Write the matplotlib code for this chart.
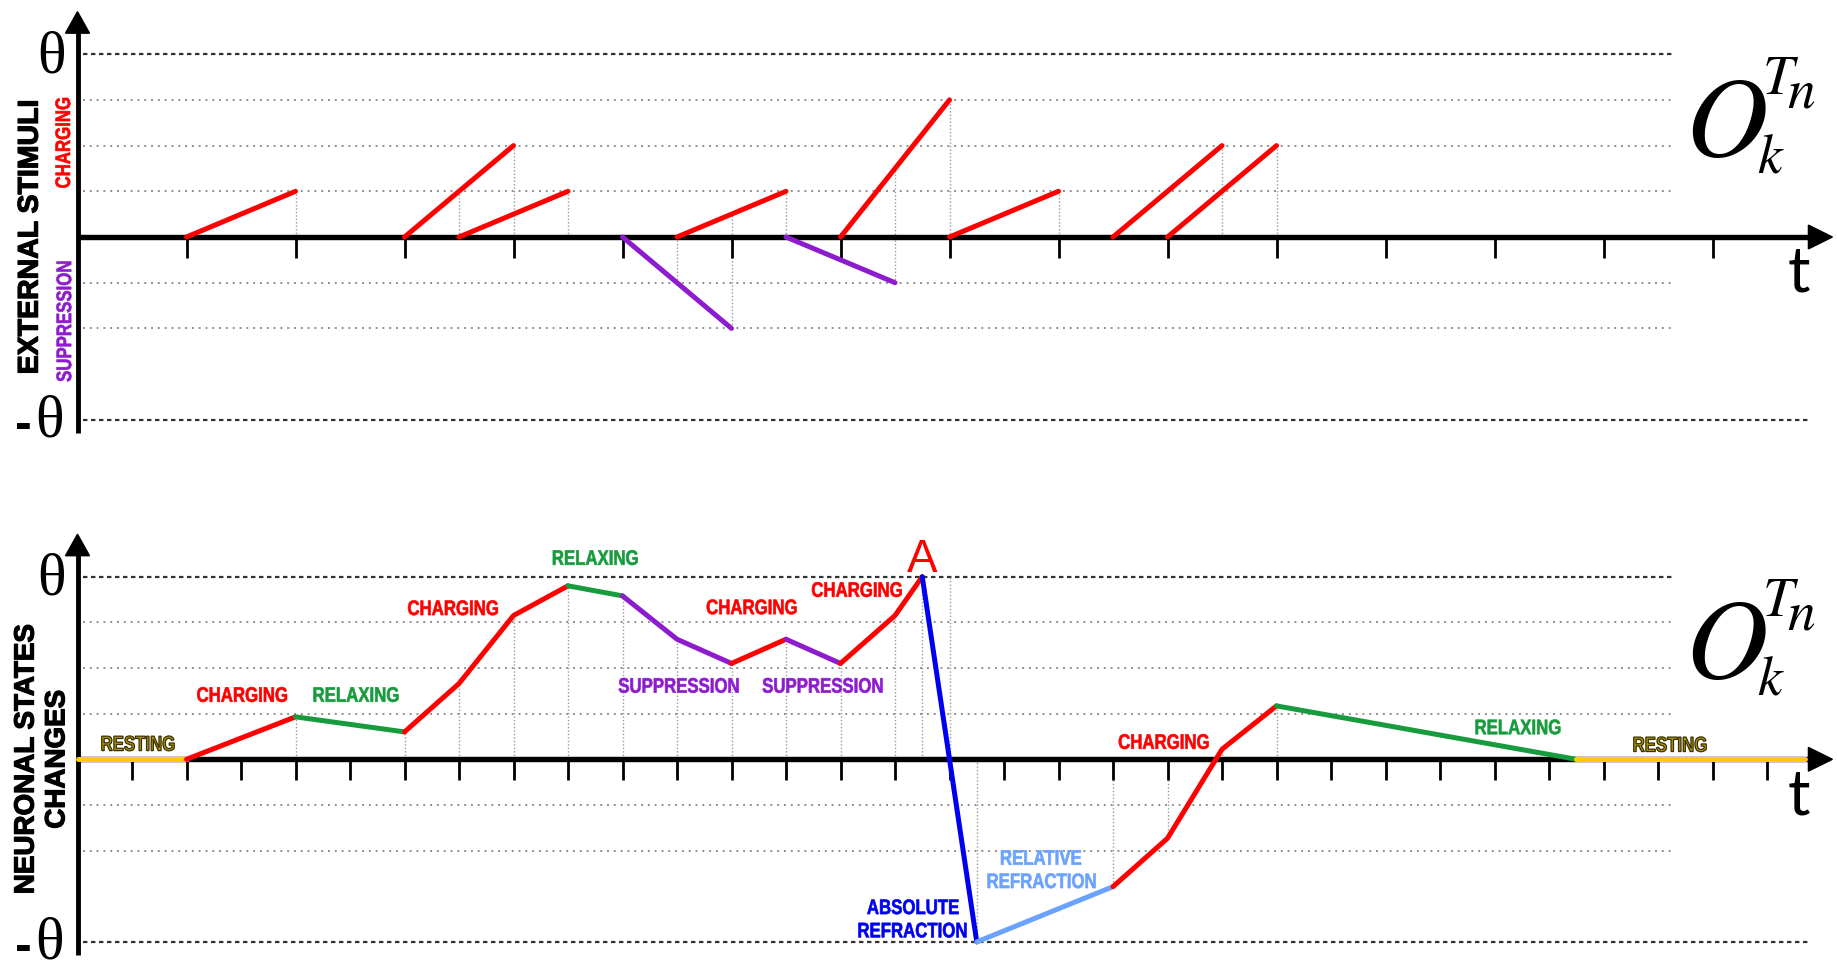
import matplotlib
matplotlib.use("Agg")
import matplotlib.pyplot as plt
import matplotlib.transforms as mtransforms
import matplotlib.patheffects as pe
from matplotlib.font_manager import FontProperties
from matplotlib.patches import Polygon, PathPatch
from matplotlib.textpath import TextPath
import numpy as np

# ---------------------------------------------------------------- data
THETA = 4  # firing threshold (grid units)

# external stimuli: each ramps from 0 at start to its peak at end
charge_start = [2, 6, 7, 11, 14, 16, 19, 20]
charge_end = [4, 8, 9, 13, 16, 18, 21, 22]
charge_peak = [1, 2, 1, 1, 3, 1, 2, 2]

supp_start = [10, 13]
supp_end = [12, 15]
supp_peak = [-2, -1]

stim_guide_t = [4, 7, 8, 9, 11, 12, 13, 15, 16, 18, 21, 22]

# neuronal state trajectory
state_t = [0, 2, 4, 6, 7, 8, 9, 10, 11, 12, 13, 14, 15, 15.5, 16.5, 19, 20, 21, 22, 27.5, 31.7]
state_v = [0, 0, 0.93, 0.6, 1.66, 3.15, 3.8, 3.58, 2.63, 2.1, 2.63, 2.1, 3.15, 4.0, -4.0,
           -2.79, -1.73, 0.22, 1.17, 0, 0]
state_phase = ["rest", "charge", "relax", "charge", "charge", "charge", "relax", "supp", "supp",
               "charge", "supp", "charge", "charge", "abs", "rel", "charge", "charge", "charge",
               "relax", "rest"]
state_guide_t = [4, 6, 7, 8, 9, 10, 11, 12, 13, 14, 15, 15.5, 16.5, 19, 20, 21, 22]
fire_guide_t = 16

phase_color = {"rest": "#ffcc00", "charge": "#ff0000", "relax": "#179b3d",
               "supp": "#8e1ccf", "abs": "#0000f0", "rel": "#6aa2ff"}

# ---------------------------------------------------------------- fonts
SANS = "Liberation Sans"
SERIF = "Liberation Serif"
MATH = "STIXGeneral"
T_FONT = "Lato"
BOLD = FontProperties(family=SANS, weight="bold")
HEAVY = [pe.withStroke(linewidth=0.9, foreground="black")]

# ---------------------------------------------------------------- figure
W, H = 1837, 971
fig = plt.figure(figsize=(W / 100, H / 100), dpi=100)
fig.patch.set_facecolor("white")

X0, XS = 77.5, 54.5  # pixel position of t=0, pixels per time unit

ax_top = fig.add_axes([0, 491 / H, 1, 480 / H])
ax_bot = fig.add_axes([0, 0, 1, 491 / H])
ax_top.set_ylim((237 - 480) / 45.7, 237 / 45.7)
ax_bot.set_ylim((759.3 - 971) / 45.65, (759.3 - 480) / 45.65)
for ax in (ax_top, ax_bot):
    ax.set_xlim(-X0 / XS, (W - X0) / XS)
    ax.axis("off")


def narrow_label(ax, x, y, s, color, size=21, squeeze=0.80, rotation=0,
                 edge=None, ew=0.45, valign="baseline"):
    """Bold condensed caption drawn as a horizontally squeezed text path."""
    path = TextPath((0, 0), s, size=size, prop=BOLD)
    ext = path.get_extents()
    cx = (ext.x0 + ext.x1) / 2
    dy = 0.0 if valign == "baseline" else -(ext.y0 + ext.y1) / 2
    px, py = ax.transData.transform((x, y))
    tr = (mtransforms.Affine2D().translate(-cx, dy).scale(squeeze, 1.0)
          .rotate_deg(rotation).translate(px, py))
    fig.add_artist(PathPatch(path, transform=tr, facecolor=color,
                             edgecolor=edge if edge else color, lw=ew, zorder=6))


def draw_frame(ax, ticks):
    # horizontal reference levels
    for v in [1, 2, 3, -1, -2]:
        ax.plot([0.1, 29.3], [v, v], color="#8f8f8f", lw=1.4, dashes=(1, 2.5), zorder=1)
    ax.plot([0.1, 29.3], [THETA, THETA], color="#333333", lw=1.6, dashes=(2, 1.6), zorder=1)
    ax.plot([0.1, 31.8], [-THETA, -THETA], color="#333333", lw=1.6, dashes=(2, 1.6), zorder=1)
    # time axis with arrow
    ax.plot([0, 31.8], [0, 0], color="black", lw=3.9, solid_capstyle="butt", zorder=3)
    ax.add_patch(Polygon([(31.76, 0.26), (32.2, 0), (31.76, -0.26)], closed=True,
                         color="black", zorder=3))
    # value axis with arrow
    ax.plot([0, 0], [-4.29, 4.5], color="black", lw=3.5, solid_capstyle="butt", zorder=3)
    ax.add_patch(Polygon([(-0.22, 4.46), (0, 4.93), (0.22, 4.46)], closed=True,
                         color="black", zorder=3))
    for t in ticks:
        ax.plot([t, t], [0, -0.46], color="black", lw=2.0, solid_capstyle="butt", zorder=3)
    # threshold labels
    ax.text(-0.48, 3.6, "θ", family=SERIF, fontsize=43, ha="center", va="baseline")
    ax.text(-0.516, -4.355, "θ", family=SERIF, fontsize=43, ha="center", va="baseline")
    ax.text(-1.0, -4.02, "-", family=SANS, weight="bold", fontsize=36, ha="center",
            va="center_baseline")
    # output symbol O_k^{T_n}
    ax.text(29.50, 1.78, "O", family=MATH, style="italic", fontsize=82, ha="left", va="baseline")
    ax.text(30.92, 3.13, "T", family=MATH, style="italic", fontsize=40, ha="left", va="baseline")
    ax.text(31.38, 2.84, "n", family=MATH, style="italic", fontsize=40, ha="left", va="baseline")
    ax.text(30.82, 1.40, "k", family=MATH, style="italic", fontsize=40, ha="left", va="baseline")
    ax.text(31.58, -1.2, "t", family=T_FONT, fontsize=45, ha="center", va="baseline")


LW = 3.6

# ================================================================ top panel
ax = ax_top
draw_frame(ax, range(2, 31, 2))

segs = []
for s, e, p in zip(charge_start, charge_end, charge_peak):
    segs.append((s, e, p))
    ax.plot([s, e], [0, p], color=phase_color["charge"], lw=LW, solid_capstyle="round", zorder=4)
for s, e, p in zip(supp_start, supp_end, supp_peak):
    segs.append((s, e, p))
    ax.plot([s, e], [0, p], color=phase_color["supp"], lw=LW, solid_capstyle="round", zorder=4)

for t in stim_guide_t:
    vals = [0.0]
    for s, e, p in segs:
        if s <= t <= e:
            vals.append(p * (t - s) / (e - s))
    ax.plot([t, t], [min(vals), max(vals)], color="#9a9a9a", lw=1.0, dashes=(1, 1.5), zorder=1.5)

ax.text(-0.86, 0, "EXTERNAL STIMULI", family=SANS, weight="bold", fontsize=20.5,
        rotation=90, ha="center", va="center", path_effects=HEAVY)
narrow_label(ax, -0.27, 2.06, "CHARGING", phase_color["charge"], rotation=90, valign="center")
narrow_label(ax, -0.25, -1.85, "SUPPRESSION", phase_color["supp"], rotation=90, valign="center")

# ================================================================ bottom panel
ax = ax_bot
draw_frame(ax, range(1, 32))

for t in state_guide_t:
    v = np.interp(t, state_t, state_v)
    ax.plot([t, t], [0, v], color="#9a9a9a", lw=1.0, dashes=(1, 1.5), zorder=1.5)
ax.plot([fire_guide_t, fire_guide_t], [0, THETA], color="#9a9a9a", lw=1.0,
        dashes=(1, 1.5), zorder=1.5)

# draw runs of identical phase as single polylines
i = 0
while i < len(state_phase):
    j = i
    while j + 1 < len(state_phase) and state_phase[j + 1] == state_phase[i]:
        j += 1
    ax.plot(state_t[i:j + 2], state_v[i:j + 2], color=phase_color[state_phase[i]], lw=LW,
            solid_capstyle="round", solid_joinstyle="round", zorder=4)
    i = j + 1

for x, y in [(1.11, 0.19), (29.22, 0.17)]:
    narrow_label(ax, x, y, "RESTING", "#ad960c", edge="#3a3000", ew=0.9)

labels = [
    (3.02, 1.26, "CHARGING", "charge"),
    (5.11, 1.26, "RELAXING", "relax"),
    (6.89, 3.16, "CHARGING", "charge"),
    (9.50, 4.26, "RELAXING", "relax"),
    (12.37, 3.18, "CHARGING", "charge"),
    (14.30, 3.56, "CHARGING", "charge"),
    (11.03, 1.46, "SUPPRESSION", "supp"),
    (13.67, 1.46, "SUPPRESSION", "supp"),
    (15.33, -3.39, "ABSOLUTE", "abs"),
    (15.32, -3.90, "REFRACTION", "abs"),
    (17.68, -2.31, "RELATIVE", "rel"),
    (17.69, -2.82, "REFRACTION", "rel"),
    (19.93, 0.23, "CHARGING", "charge"),
    (26.43, 0.55, "RELAXING", "relax"),
]
for x, y, s, key in labels:
    narrow_label(ax, x, y, s, phase_color[key])

ax.text(15.5, 4.11, "A", family=SANS, fontsize=33, color="#ff0000", ha="center", va="baseline")

ax.text(-0.935, 0, "NEURONAL STATES", family=SANS, weight="bold", fontsize=20,
        rotation=90, ha="center", va="center", path_effects=HEAVY)
ax.text(-0.37, 0, "CHANGES", family=SANS, weight="bold", fontsize=20,
        rotation=90, ha="center", va="center", path_effects=HEAVY)

fig.savefig("out.png", dpi=100, facecolor="white")
